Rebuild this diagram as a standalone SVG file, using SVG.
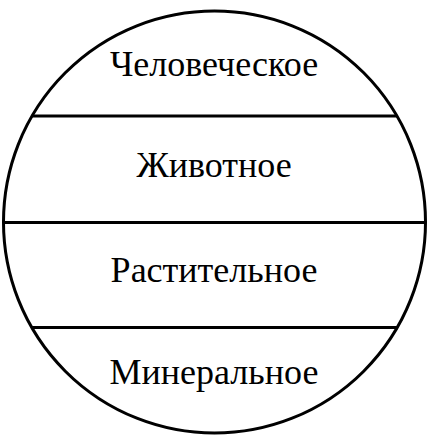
<svg xmlns="http://www.w3.org/2000/svg" width="428" height="436" viewBox="0 0 428 436">
<style>
.ln{stroke:#000;stroke-width:3;fill:none}
</style>
<rect width="428" height="436" fill="#fff"/>
<g id="connectors">
<circle class="ln" cx="214.5" cy="222" r="211"/>
<line class="ln" x1="32" y1="116" x2="397" y2="116"/>
<line class="ln" x1="3" y1="222.5" x2="426" y2="222.5"/>
<line class="ln" x1="32" y1="327.5" x2="397" y2="327.5"/>
</g>
<g id="human"><text x="214" y="76" text-anchor="middle" style="font-family:'Liberation Serif';font-size:36px">Человеческое</text></g>
<g id="animal"><text x="214" y="177" text-anchor="middle" style="font-family:'Liberation Serif';font-size:36px">Животное</text></g>
<g id="plant"><text x="214" y="282" text-anchor="middle" style="font-family:'Liberation Serif';font-size:36px">Растительное</text></g>
<g id="mineral"><text x="214" y="384" text-anchor="middle" style="font-family:'Liberation Serif';font-size:36px">Минеральное</text></g>
</svg>
